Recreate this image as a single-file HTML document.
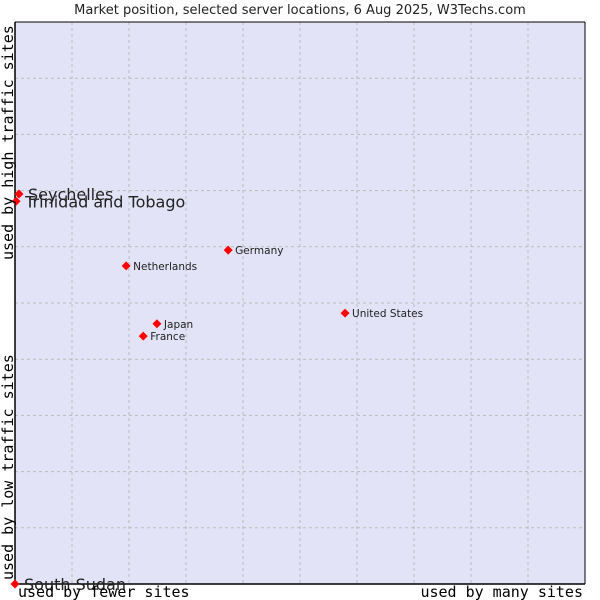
<!DOCTYPE html>
<html><head><meta charset="utf-8"><style>
body{margin:0;background:#fff;}
svg{display:block;}
</style></head><body>
<svg id="chart" width="600" height="600" xmlns="http://www.w3.org/2000/svg">
<text x="300" y="14" text-anchor="middle" font-family="DejaVu Sans, sans-serif" font-size="13" fill="#222">Market position, selected server locations, 6 Aug 2025, W3Techs.com</text>
<rect x="15" y="22" width="570" height="562" fill="#e3e3f7"/>
<g id="grid"></g>
<line x1="15" y1="22" x2="15" y2="584" stroke="#000" stroke-width="1.5"/>
<line x1="15" y1="584" x2="585" y2="584" stroke="#000" stroke-width="1.5"/>
<line x1="15" y1="22" x2="585" y2="22" stroke="#000" stroke-width="1"/>
<line x1="585" y1="22" x2="585" y2="584" stroke="#000" stroke-width="1"/>
<g id="points"></g>
<text x="18" y="597" font-family="DejaVu Sans Mono, monospace" font-size="15" fill="#000">used by fewer sites</text>
<text x="583" y="597" text-anchor="end" font-family="DejaVu Sans Mono, monospace" font-size="15" fill="#000">used by many sites</text>
<text transform="translate(13,580) rotate(-90)" font-family="DejaVu Sans Mono, monospace" font-size="15" fill="#000">used by low traffic sites</text>
<text transform="translate(13,260) rotate(-90)" font-family="DejaVu Sans Mono, monospace" font-size="15" fill="#000">used by high traffic sites</text>
</svg>
<script>
const countries = ["Seychelles","Trinidad and Tobago","Netherlands","Germany","Japan","France","United States","South Sudan"];
const xValues = [0.7,0.2,19.5,37.4,24.9,22.5,57.9,0];
const yValues = [69.4,68.1,56.6,59.4,46.3,44.1,48.2,0];
const bigLabel = [true,true,false,false,false,false,false,true];
const NS="http://www.w3.org/2000/svg";
const L=15,R=585,T=22,B=584;
function xs(v){return L+(R-L)*v/100;}
function ys(v){return B-(B-T)*v/100;}
const grid=document.getElementById('grid');
for(let i=1;i<10;i++){
  const v=document.createElementNS(NS,'line');
  v.setAttribute('x1',xs(i*10));v.setAttribute('x2',xs(i*10));v.setAttribute('y1',T);v.setAttribute('y2',B);
  v.setAttribute('stroke','#bbbbbb');v.setAttribute('stroke-dasharray','3,3');
  
  
  grid.appendChild(v);
  const h=document.createElementNS(NS,'line');
  h.setAttribute('y1',ys(i*10));h.setAttribute('y2',ys(i*10));h.setAttribute('x1',L);h.setAttribute('x2',R);
  h.setAttribute('stroke','#bbbbbb');h.setAttribute('stroke-dasharray','3,3');
  
  
  grid.appendChild(h);
}
const pts=document.getElementById('points');
countries.forEach((c,i)=>{
  const x=xs(xValues[i]),y=ys(yValues[i]);
  const d=document.createElementNS(NS,'path');
  d.setAttribute('d',`M${x} ${y-4.5}L${x+4.5} ${y}L${x} ${y+4.5}L${x-4.5} ${y}Z`);
  d.setAttribute('fill','#f00');
  
  
  pts.appendChild(d);
  const t=document.createElementNS(NS,'text');
  const big=bigLabel[i];
  t.setAttribute('x',x+(big?9:7));t.setAttribute('y',y+(big?6:4));
  t.setAttribute('font-family','DejaVu Sans, sans-serif');
  t.setAttribute('font-size',big?'16':'10.5');
  t.setAttribute('fill','#222');
  t.textContent=c;
  
  
  pts.appendChild(t);
});
</script>
</body></html>
